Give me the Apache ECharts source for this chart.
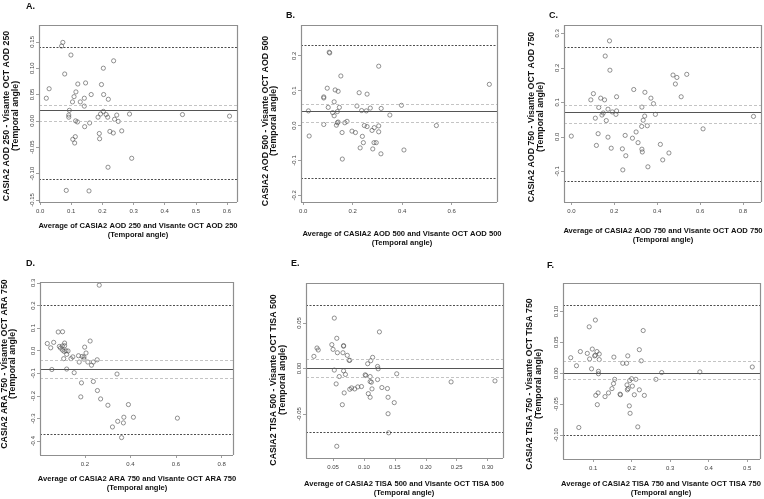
<!DOCTYPE html>
<html>
<head>
<meta charset="utf-8">
<script src="https://cdn.jsdelivr.net/npm/echarts@6/dist/echarts.min.js"></script>
<style>
html,body{margin:0;padding:0;background:#fff;}
#chart{width:764px;height:499px;}
</style>
</head>
<body>
<div id="chart"></div>
<script>
// ---------- Panel A: AOD 250 ----------
const aX = [0.073,0.069,0.099,0.236,0.203,0.079,0.121,0.146,0.197,0.029,0.115,0.164,0.204,0.020,0.109,0.142,0.219,0.104,0.129,0.142,0.094,0.203,0.092,0.194,0.212,0.246,0.287,0.457,0.608,0.092,0.186,0.217,0.114,0.120,0.239,0.251,0.159,0.143,0.190,0.224,0.235,0.262,0.113,0.105,0.191,0.111,0.294,0.218,0.084,0.157];
const aY = [0.149,0.142,0.125,0.114,0.100,0.089,0.070,0.072,0.069,0.061,0.055,0.050,0.050,0.043,0.046,0.043,0.041,0.036,0.036,0.028,0.020,0.018,0.011,0.013,0.012,0.011,0.013,0.012,0.009,0.007,0.007,0.007,0.000,-0.002,0.003,-0.001,-0.004,-0.011,-0.024,-0.020,-0.023,-0.019,-0.030,-0.035,-0.034,-0.042,-0.071,-0.088,-0.132,-0.133];
const aLines = [0.140, 0.033, 0.016, -0.0025, -0.110];
const aXTicks = [0, 0.1, 0.2, 0.3, 0.4, 0.5, 0.6];
const aYTicks = [-0.15, -0.10, -0.05, 0, 0.05, 0.10, 0.15];
const aXTitle = 'Average of CASIA2 AOD 250 and Visante OCT AOD 250';
const aYTitle = 'CASIA2 AOD 250 - Visante OCT AOD 250';

// ---------- Panel B: AOD 500 ----------
const bX = [0.105,0.107,0.305,0.152,0.752,0.097,0.129,0.141,0.226,0.258,0.083,0.083,0.125,0.397,0.101,0.146,0.217,0.271,0.315,0.021,0.138,0.236,0.255,0.350,0.119,0.125,0.141,0.138,0.168,0.177,0.083,0.134,0.247,0.258,0.287,0.305,0.538,0.278,0.305,0.197,0.211,0.157,0.024,0.239,0.243,0.286,0.295,0.230,0.281,0.314,0.407,0.158];
const bY = [0.210,0.208,0.170,0.142,0.118,0.107,0.102,0.098,0.094,0.090,0.082,0.079,0.068,0.058,0.052,0.052,0.056,0.050,0.049,0.042,0.040,0.043,0.042,0.030,0.037,0.028,0.010,0.008,0.008,0.012,0.003,0.001,0.000,-0.003,-0.006,-0.001,0.000,-0.014,-0.018,-0.016,-0.020,-0.020,-0.030,-0.031,-0.049,-0.049,-0.049,-0.064,-0.067,-0.081,-0.070,-0.096];
const bLines = [0.225, 0.063, 0.037, 0.012, -0.150];
const bXTicks = [0, 0.2, 0.4, 0.6];
const bYTicks = [-0.2, -0.1, 0, 0.1, 0.2];
const bXTitle = 'Average of CASIA2 AOD 500 and Visante OCT AOD 500';
const bYTitle = 'CASIA2 AOD 500 - Visante OCT AOD 500';

// ---------- Panel C: AOD 750 ----------
const cX = [0.178,0.158,0.180,0.474,0.492,0.538,0.485,0.512,0.291,0.343,0.103,0.211,0.137,0.155,0.091,0.371,0.383,0.128,0.329,0.171,0.211,0.191,0.149,0.208,0.143,0.392,0.342,0.849,0.112,0.163,0.335,0.328,0.354,0.614,0.302,0.125,0.000,0.251,0.171,0.285,0.311,0.117,0.415,0.186,0.238,0.329,0.331,0.455,0.254,0.426,0.357,0.240];
const cY = [0.278,0.234,0.193,0.179,0.172,0.181,0.153,0.116,0.137,0.129,0.125,0.116,0.112,0.107,0.107,0.112,0.096,0.085,0.086,0.080,0.075,0.072,0.069,0.065,0.063,0.065,0.060,0.059,0.054,0.047,0.048,0.030,0.032,0.023,0.014,0.009,0.002,0.004,-0.001,-0.004,-0.017,-0.025,-0.022,-0.033,-0.035,-0.036,-0.044,-0.047,-0.055,-0.067,-0.087,-0.096];
const cLines = [0.258, 0.093, 0.067, 0.039, -0.129];
const cXTicks = [0, 0.2, 0.4, 0.6, 0.8];
const cYTicks = [-0.1, 0, 0.1, 0.2, 0.3];
const cXTitle = 'Average of CASIA2 AOD 750 and Visante OCT AOD 750';
const cYTitle = 'CASIA2 AOD 750 - Visante OCT AOD 750';

// ---------- Panel D: ARA 750 ----------
const dX = [0.263,0.083,0.102,0.035,0.063,0.050,0.223,0.088,0.093,0.101,0.111,0.111,0.102,0.109,0.117,0.126,0.120,0.199,0.107,0.139,0.147,0.172,0.188,0.196,0.205,0.175,0.213,0.229,0.237,0.254,0.196,0.055,0.120,0.153,0.341,0.185,0.237,0.182,0.255,0.269,0.301,0.391,0.371,0.413,0.606,0.344,0.369,0.321,0.361];
const dY = [0.290,0.083,0.084,0.032,0.037,0.013,0.043,0.019,0.012,0.021,0.034,0.022,0.003,-0.003,0.000,-0.001,-0.016,0.016,-0.035,-0.035,-0.027,-0.022,-0.025,-0.028,-0.010,-0.050,-0.050,-0.064,-0.050,-0.040,-0.037,-0.083,-0.081,-0.097,-0.103,-0.142,-0.136,-0.204,-0.176,-0.213,-0.241,-0.238,-0.294,-0.294,-0.298,-0.312,-0.319,-0.337,-0.384];
const dLines = [0.204, -0.041, -0.081, -0.121, -0.369];
const dXTicks = [0.2, 0.4, 0.6, 0.8];
const dYTicks = [-0.4, -0.3, -0.2, -0.1, 0, 0.1, 0.2, 0.3];
const dXTitle = 'Average of CASIA2 ARA 750 and Visante OCT ARA 750';
const dYTitle = 'CASIA2 ARA 750 - Visante OCT ARA 750';

// ---------- Panel E: TISA 500 ----------
const eX = [0.052,0.125,0.056,0.048,0.067,0.067,0.024,0.026,0.050,0.057,0.066,0.073,0.019,0.076,0.077,0.114,0.111,0.106,0.122,0.123,0.052,0.067,0.070,0.060,0.102,0.103,0.153,0.110,0.055,0.122,0.110,0.112,0.241,0.312,0.096,0.090,0.085,0.080,0.077,0.113,0.129,0.138,0.107,0.110,0.068,0.139,0.149,0.065,0.139,0.140,0.056];
const eY = [0.0554,0.0402,0.0332,0.0262,0.0251,0.0245,0.0225,0.0203,0.0210,0.0173,0.0173,0.0144,0.0133,0.0089,0.0090,0.0122,0.0085,0.0052,0.0022,-0.0004,-0.0018,-0.0026,-0.0066,-0.0089,-0.0070,-0.0078,-0.0059,-0.0089,-0.0170,-0.0122,-0.0144,-0.0151,-0.0148,-0.0137,-0.0199,-0.0203,-0.0225,-0.0214,-0.0229,-0.0225,-0.0210,-0.0221,-0.0277,-0.0317,-0.0269,-0.0317,-0.0376,-0.0399,-0.0498,-0.0708,-0.0856];
const eLines = [0.0697, 0.0070, -0.0026, -0.0133, -0.0749];
const eXTicks = [0.05, 0.10, 0.15, 0.20, 0.25, 0.30];
const eYTicks = [-0.05, 0, 0.05];
const eXTitle = 'Average of CASIA2 TISA 500 and Visante OCT TISA 500';
const eYTitle = 'CASIA2 TISA 500 - Visante OCT TISA 500';

// ---------- Panel F: TISA 750 ----------
const fX = [0.106,0.090,0.230,0.220,0.098,0.067,0.085,0.110,0.116,0.104,0.106,0.042,0.091,0.116,0.154,0.190,0.225,0.177,0.187,0.057,0.096,0.114,0.114,0.278,0.377,0.513,0.156,0.200,0.211,0.263,0.195,0.153,0.188,0.202,0.191,0.149,0.220,0.189,0.113,0.107,0.140,0.170,0.171,0.131,0.207,0.233,0.111,0.194,0.196,0.216,0.063];
const fY = [0.086,0.075,0.069,0.038,0.039,0.035,0.032,0.035,0.031,0.028,0.029,0.025,0.023,0.022,0.026,0.028,0.020,0.016,0.016,0.012,0.007,0.003,-0.001,0.001,0.002,0.010,-0.010,-0.009,-0.010,-0.010,-0.012,-0.017,-0.019,-0.021,-0.025,-0.025,-0.027,-0.027,-0.032,-0.036,-0.032,-0.034,-0.035,-0.038,-0.035,-0.036,-0.051,-0.053,-0.065,-0.087,-0.088];
const fLines = [0.111, 0.0188, 0.0038, -0.0113, -0.105];
const fXTicks = [0.1, 0.2, 0.3, 0.4, 0.5];
const fYTicks = [-0.10, -0.05, 0, 0.05, 0.10];
const fXTitle = 'Average of CASIA2 TISA 750 and Visante OCT TISA 750';
const fYTitle = 'CASIA2 TISA 750 - Visante OCT TISA 750';

const SUB = '(Temporal angle)';

const panels = [
  {x:aX, y:aY, lines:aLines, xt:aXTicks, yt:aYTicks, xTitle:aXTitle, yTitle:aYTitle, letter:'A.',
   g:{l:39, t:25, w:198, h:177}, xr:[-0.0035,0.632], yr:[-0.154,0.182], xd:1, yd:2,
   xtp:[138,230.5], ytp:[11,116], lp:[26,2]},
  {x:bX, y:bY, lines:bLines, xt:bXTicks, yt:bYTicks, xTitle:bXTitle, yTitle:bYTitle, letter:'B.',
   g:{l:301, t:25, w:196, h:177}, xr:[-0.009,0.783], yr:[-0.219,0.288], xd:1, yd:1,
   xtp:[402,238.5], ytp:[269.5,121], lp:[286,11]},
  {x:cX, y:cY, lines:cLines, xt:cXTicks, yt:cYTicks, xTitle:cXTitle, yTitle:cYTitle, letter:'C.',
   g:{l:564, t:25, w:197, h:177}, xr:[-0.034,0.884], yr:[-0.189,0.324], xd:1, yd:1,
   xtp:[663,235], ytp:[536,117], lp:[549,11]},
  {x:dX, y:dY, lines:dLines, xt:dXTicks, yt:dYTicks, xTitle:dXTitle, yTitle:dYTitle, letter:'D.',
   g:{l:40, t:282, w:193, h:173}, xr:[0.003,0.850], yr:[-0.461,0.304], xd:1, yd:1,
   xtp:[137,483], ytp:[8.5,364], lp:[26,259]},
  {x:eX, y:eY, lines:eLines, xt:eXTicks, yt:eYTicks, xTitle:eXTitle, yTitle:eYTitle, letter:'E.',
   g:{l:306, t:283, w:197, h:175}, xr:[0.0062,0.325], yr:[-0.0985,0.094], xd:2, yd:2,
   xtp:[404,488.5], ytp:[278,380], lp:[291,259]},
  {x:fX, y:fY, lines:fLines, xt:fXTicks, yt:fYTicks, xTitle:fXTitle, yTitle:fYTitle, letter:'F.',
   g:{l:563, t:283, w:197, h:176}, xr:[0.022,0.533], yr:[-0.139,0.146], xd:1, yd:2,
   xtp:[661,488.5], ytp:[534,384], lp:[547,261]}
];

const FONT = '"Liberation Sans", Arial, Helvetica, sans-serif';
const BOX = '#8f8f8f';

const lineStyles = [
  {color:'#3a3a3a', type:[2,1.5], width:0.9},
  {color:'#bdbdbd', type:[3,2], width:0.9},
  {color:'#555555', type:'solid', width:1.1},
  {color:'#bdbdbd', type:[3,2], width:0.9},
  {color:'#3a3a3a', type:[2,1.5], width:0.9}
];

const graphics = [];
panels.forEach(p => {
  graphics.push({type:'text', x:p.lp[0], y:p.lp[1], silent:true,
    style:{text:p.letter, font:'bold 9px ' + FONT, fill:'#111'}});
  graphics.push({type:'text', x:p.xtp[0], y:p.xtp[1], silent:true,
    style:{text:p.xTitle + '\n' + SUB, font:'bold 7.6px ' + FONT, lineHeight:9,
      align:'center', verticalAlign:'middle', fill:'#111'}});
  graphics.push({type:'text', x:p.ytp[0], y:p.ytp[1], rotation:Math.PI / 2, silent:true,
    style:{text:p.yTitle + '\n' + SUB, font:'bold 8.8px ' + FONT, lineHeight:8.5,
      align:'center', verticalAlign:'middle', fill:'#111'}});
});

// plot frame (R box()) as thin solid lines at the axis extremes, through the axes' own scales
const frameLines = p => [
  [{coord:[p.xr[0], p.yr[0]]}, {coord:[p.xr[0], p.yr[1]]}],
  [{coord:[p.xr[1], p.yr[0]]}, {coord:[p.xr[1], p.yr[1]]}],
  [{coord:[p.xr[0], p.yr[0]]}, {coord:[p.xr[1], p.yr[0]]}],
  [{coord:[p.xr[0], p.yr[1]]}, {coord:[p.xr[1], p.yr[1]]}]
];

const option = {
  animation:false,
  textStyle:{fontFamily:FONT},
  grid: panels.map(p => ({left:p.g.l, top:p.g.t, width:p.g.w, height:p.g.h, containLabel:false})),
  xAxis: panels.map((p,i) => ({type:'value', gridIndex:i, min:p.xr[0], max:p.xr[1], position:'bottom',
    axisLine:{show:false, onZero:false}, splitLine:{show:false},
    axisTick:{show:true, customValues:p.xt, length:3, lineStyle:{color:'#888', width:0.8}},
    axisLabel:{customValues:p.xt, formatter:v => v.toFixed(p.xd), fontSize:6, color:'#444', margin:6}})),
  yAxis: panels.map((p,i) => ({type:'value', gridIndex:i, min:p.yr[0], max:p.yr[1], position:'left',
    axisLine:{show:false, onZero:false}, splitLine:{show:false},
    axisTick:{show:true, customValues:p.yt, length:3, lineStyle:{color:'#888', width:0.8}},
    axisLabel:{customValues:p.yt, formatter:v => v.toFixed(p.yd), fontSize:6, color:'#444', margin:4, rotate:90}})),
  graphic: graphics,
  series: panels.map((p,i) => ({
    type:'scatter', xAxisIndex:i, yAxisIndex:i,
    data:p.x.map((v,k) => [v, p.y[k]]),
    symbol:'circle', symbolSize:4.2,
    itemStyle:{color:'rgba(0,0,0,0)', borderColor:'#555', borderWidth:0.8},
    z:3,
    markLine:{silent:true, symbol:['none','none'], label:{show:false}, animation:false,
      data:p.lines.map((v,k) => ({yAxis:v, lineStyle:lineStyles[k]}))
        .concat(frameLines(p).map(seg => [
          Object.assign({}, seg[0], {lineStyle:{color:BOX, type:'solid', width:1.2}}), seg[1]]))}
  }))
};

const chart = echarts.init(document.getElementById('chart'), null, {renderer:'canvas'});
chart.setOption(option);
</script>
</body>
</html>
